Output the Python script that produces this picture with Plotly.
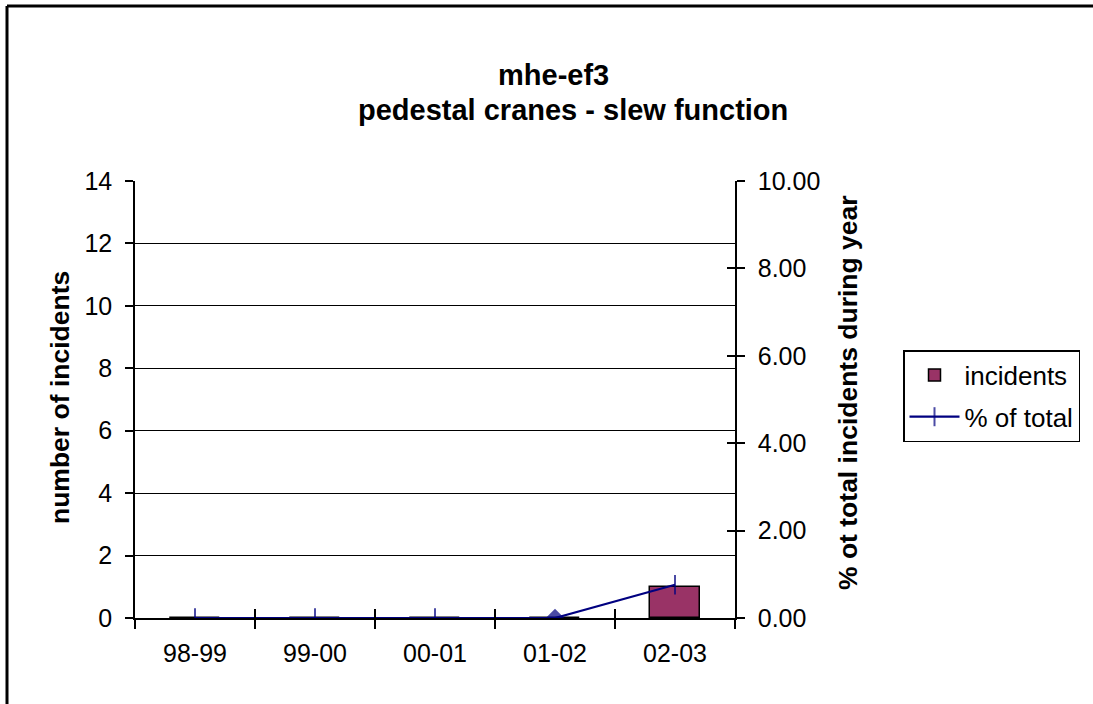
import plotly.graph_objects as go

categories = ["98-99", "99-00", "00-01", "01-02", "02-03"]
incidents = [0, 0, 0, 0, 1]
pct_total = [0.0, 0.0, 0.0, 0.0, 0.76]
pct_symbols = ["line-ns", "line-ns", "line-ns", "diamond", "line-ns"]
pct_sizes = [14, 14, 14, 12, 14]

left_ticks = [0, 2, 4, 6, 8, 10, 12, 14]
right_ticks = [0, 2, 4, 6, 8, 10]

W, H = 1093, 704
L, R, T, B = 135, 735, 181, 618

def px(x):
    return (x - L) / (R - L)

def py(y):
    return (B - y) / (B - T)

FONT = "Liberation Sans, Arial, sans-serif"
TICK = 25

fig = go.Figure()
fig.add_trace(go.Bar(
    x=categories, y=incidents, name="incidents", legendgroup="a",
    marker=dict(color="#993366", line=dict(color="black", width=1.5)),
    width=0.41, yaxis="y", xaxis="x",
))
fig.add_trace(go.Scatter(
    x=categories, y=pct_total, name="% of total", mode="lines+markers", legendgroup="b",
    line=dict(color="#000080", width=2.2),
    marker=dict(symbol=pct_symbols, size=pct_sizes, color="#000080",
                line=dict(color="#000080", width=2)),
    yaxis="y2", xaxis="x",
))
# helper trace to activate tick-only axes
fig.add_trace(go.Scatter(x=categories, y=[None]*5, xaxis="x2", yaxis="y3",
                         showlegend=False, hoverinfo="skip"))

fig.update_layout(
    width=W, height=H,
    margin=dict(l=L, r=W - R, t=T, b=H - B, autoexpand=False),
    paper_bgcolor="white", plot_bgcolor="white",
    font=dict(family=FONT, size=TICK, color="black"),
    showlegend=True,
    bargap=0,
    xaxis=dict(
        type="category", categoryorder="array", categoryarray=categories,
        showline=True, linecolor="black", linewidth=1.5,
        ticks="outside", tickson="boundaries", ticklen=9, tickwidth=1.5, tickcolor="black",
        showgrid=False, tickfont=dict(size=TICK), range=[-0.5, 4.5],
        ticklabelstandoff=12,
    ),
    xaxis2=dict(
        type="category", categoryorder="array", categoryarray=categories,
        overlaying="x", anchor="y", side="bottom",
        showline=False, showticklabels=False, ticks="inside", tickson="boundaries",
        ticklen=9, tickwidth=1.5, tickcolor="black", showgrid=False, range=[-0.5, 4.5],
    ),
    yaxis=dict(
        range=[0, 14], tickvals=left_ticks, ticks="outside", ticklen=8,
        tickwidth=1.5, tickcolor="black",
        showline=True, linecolor="black", linewidth=1.5,
        showgrid=True, gridcolor="black", gridwidth=1.2,
        zeroline=False, tickfont=dict(size=TICK), ticklabelstandoff=8,
    ),
    yaxis2=dict(
        range=[0, 10], tickvals=right_ticks, tickformat=".2f",
        overlaying="y", side="right", anchor="x",
        ticks="outside", ticklen=8, tickwidth=1.5, tickcolor="black",
        showline=True, linecolor="black", linewidth=1.5,
        showgrid=False, zeroline=False, tickfont=dict(size=TICK), ticklabelstandoff=8,
    ),
    yaxis3=dict(
        range=[0, 10], tickvals=right_ticks, showticklabels=False,
        overlaying="y", side="right", anchor="x",
        ticks="inside", ticklen=8, tickwidth=1.5, tickcolor="black",
        showline=False, showgrid=False, zeroline=False,
    ),
    legend=dict(
        x=px(903), y=py(350), xanchor="left", yanchor="top",
        bordercolor="black", borderwidth=1.5, bgcolor="white",
        font=dict(size=26), tracegroupgap=5, itemwidth=50,
    ),
)

# title (two lines)
fig.add_annotation(
    x=px(553), y=py(75), xref="paper", yref="paper", showarrow=False,
    text="<b>mhe-ef3</b>", font=dict(size=29, family=FONT),
    xanchor="center", yanchor="middle",
)
fig.add_annotation(
    x=px(573), y=py(110), xref="paper", yref="paper", showarrow=False,
    text="<b>pedestal cranes - slew function</b>", font=dict(size=29, family=FONT),
    xanchor="center", yanchor="middle",
)
# axis titles
fig.add_annotation(
    x=px(60), y=py(398), xref="paper", yref="paper", showarrow=False,
    text="<b>number of incidents</b>", textangle=-90,
    font=dict(size=26.5, family=FONT), xanchor="center", yanchor="middle",
)
fig.add_annotation(
    x=px(848), y=py(393), xref="paper", yref="paper", showarrow=False,
    text="<b>% ot total incidents during year</b>", textangle=-90,
    font=dict(size=26.5, family=FONT), xanchor="center", yanchor="middle",
)
# outer chart frame (left and top edges visible)
fig.add_shape(type="line", xref="paper", yref="paper",
              x0=px(7), x1=px(7), y0=py(720), y1=py(6),
              line=dict(color="black", width=3))
fig.add_shape(type="line", xref="paper", yref="paper",
              x0=px(7), x1=px(1110), y0=py(6), y1=py(6),
              line=dict(color="black", width=3))

fig.write_html("out.html", config={"displayModeBar": False},
               post_script="document.body.style.margin='0px';document.body.style.overflow='hidden';")
